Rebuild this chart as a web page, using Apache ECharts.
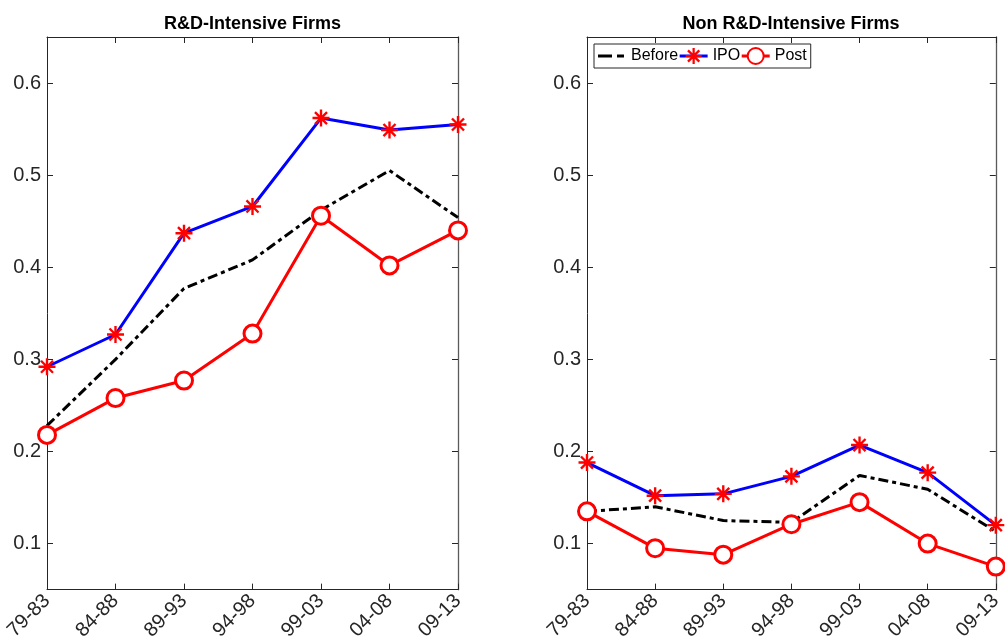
<!DOCTYPE html>
<html>
<head>
<meta charset="utf-8">
<script src="https://cdn.jsdelivr.net/npm/echarts@6/dist/echarts.min.js"></script>
<style>html,body{margin:0;padding:0;background:#fff;}#c{width:1005px;height:643px;}</style>
</head>
<body>
<div id="c"></div>
<script>
const categories = ['79-83','84-88','89-93','94-98','99-03','04-08','09-13'];
const yTicks = [0.1,0.2,0.3,0.4,0.5,0.6];
const titles = ['R&D-Intensive Firms','Non R&D-Intensive Firms'];
const seriesNames = ['Before','IPO','Post'];
// R&D-intensive firms
const rdBefore = [0.228,0.300,0.377,0.408,0.462,0.505,0.454];
const rdIPO    = [0.292,0.327,0.437,0.466,0.562,0.549,0.555];
const rdPost   = [0.218,0.258,0.277,0.328,0.456,0.402,0.440];
// Non R&D-intensive firms
const nrBefore = [0.135,0.140,0.125,0.123,0.174,0.159,0.113];
const nrIPO    = [0.188,0.152,0.154,0.173,0.207,0.177,0.120];
const nrPost   = [0.135,0.095,0.088,0.121,0.145,0.100,0.075];

const star = 'path://M0 43 L100 43 L100 57 L0 57 Z M43 0 L57 0 L57 100 L43 100 Z M19.6 9.7 L90.3 80.4 L80.4 90.3 L9.7 19.6 Z M80.4 9.7 L90.3 19.6 L19.6 90.3 L9.7 80.4 Z';
const dashIcon = 'path://M0 0 L0.01 0 L0.01 0.01 Z M0 8.5 L14 8.5 L14 11.5 L0 11.5 Z M19 8.5 L26 8.5 L26 11.5 L19 11.5 Z M28 20 L27.99 20 L27.99 19.99 Z';
const axisCol = '#262626';
const FONT = 'Liberation Sans, Arial, Helvetica, sans-serif';

const grids = [
  {left: 47, right: 547, top: 37, bottom: 52},
  {left: 587, right: 8, top: 37, bottom: 52}
];
const xAxes = [], yAxes = [];
grids.forEach((g, i) => {
  xAxes.push({
    type: 'category', gridIndex: i, data: categories, boundaryGap: false, position: 'bottom',
    axisLine: {lineStyle: {color: axisCol, width: 1}},
    axisTick: {inside: true, length: 6, lineStyle: {color: axisCol}},
    axisLabel: {rotate: 45, fontSize: 20, color: axisCol, fontFamily: FONT, margin: 8, interval: 0},
    splitLine: {show: false}
  });
  xAxes.push({
    type: 'category', gridIndex: i, data: categories, boundaryGap: false, position: 'top',
    axisLine: {lineStyle: {color: axisCol, width: 1}},
    axisTick: {inside: true, length: 6, lineStyle: {color: axisCol}},
    axisLabel: {show: false}, splitLine: {show: false}
  });
  yAxes.push({
    type: 'value', gridIndex: i, min: 0.05, max: 0.65, position: 'left',
    axisLine: {show: true, lineStyle: {color: axisCol, width: 1}},
    axisTick: {show: true, inside: true, length: 6, customValues: yTicks, lineStyle: {color: axisCol}},
    axisLabel: {customValues: yTicks, fontSize: 20, color: axisCol, fontFamily: FONT, margin: 6,
      formatter: v => (Math.round(v*10)/10).toFixed(1)},
    splitLine: {show: false}
  });
  yAxes.push({
    type: 'value', gridIndex: i, min: 0.05, max: 0.65, position: 'right',
    axisLine: {show: true, lineStyle: {color: '#5a5a5a', width: 1.3}},
    axisTick: {show: true, inside: true, length: 6, customValues: yTicks, lineStyle: {color: axisCol}},
    axisLabel: {show: false}, splitLine: {show: false}
  });
});

function mk(name, data, gi) {
  const base = {name: name, type: 'line', data: data, xAxisIndex: gi*2, yAxisIndex: gi*2, animation: false, silent: true};
  if (name === 'Before') {
    return Object.assign(base, {symbol: 'none', z: 2, lineStyle: {color: '#000', width: 3, type: [10,4,4,4]}, itemStyle: {color: '#000'}});
  }
  if (name === 'IPO') {
    return Object.assign(base, {symbol: star, symbolSize: 17, z: 3, lineStyle: {color: '#0000ff', width: 3},
      itemStyle: {color: '#ff0000', borderWidth: 0}});
  }
  return Object.assign(base, {symbol: 'circle', symbolSize: 17, showAllSymbol: true, z: 4, lineStyle: {color: '#ff0000', width: 3},
    itemStyle: {color: '#ffffff', borderColor: '#ff0000', borderWidth: 3}});
}

const option = {
  backgroundColor: '#fff',
  title: titles.map((t, i) => ({
    text: t, left: i === 0 ? 247.5 : 786, top: 10, textAlign: 'center',
    textStyle: {fontSize: 18, fontWeight: 'bold', color: '#000', fontFamily: FONT}
  })),
  legend: {
    data: [
      {name: 'Before', icon: dashIcon, itemStyle: {color: '#000', borderWidth: 0}},
      {name: 'IPO'},
      {name: 'Post'}
    ],
    left: 594, top: 44, orient: 'horizontal',
    itemWidth: 28, itemHeight: 20, itemGap: 0, padding: [2, 4, 2, 4],
    borderColor: axisCol, borderWidth: 1, backgroundColor: '#fff',
    lineStyle: {width: 3},
    textStyle: {fontSize: 16, color: '#000', fontFamily: FONT}
  },
  grid: grids,
  xAxis: xAxes,
  yAxis: yAxes,
  series: [
    mk('Before', rdBefore, 0), mk('IPO', rdIPO, 0), mk('Post', rdPost, 0),
    mk('Before', nrBefore, 1), mk('IPO', nrIPO, 1), mk('Post', nrPost, 1)
  ]
};
const chart = echarts.init(document.getElementById('c'), null, {renderer: 'canvas'});
chart.setOption(option);
</script>
</body>
</html>
